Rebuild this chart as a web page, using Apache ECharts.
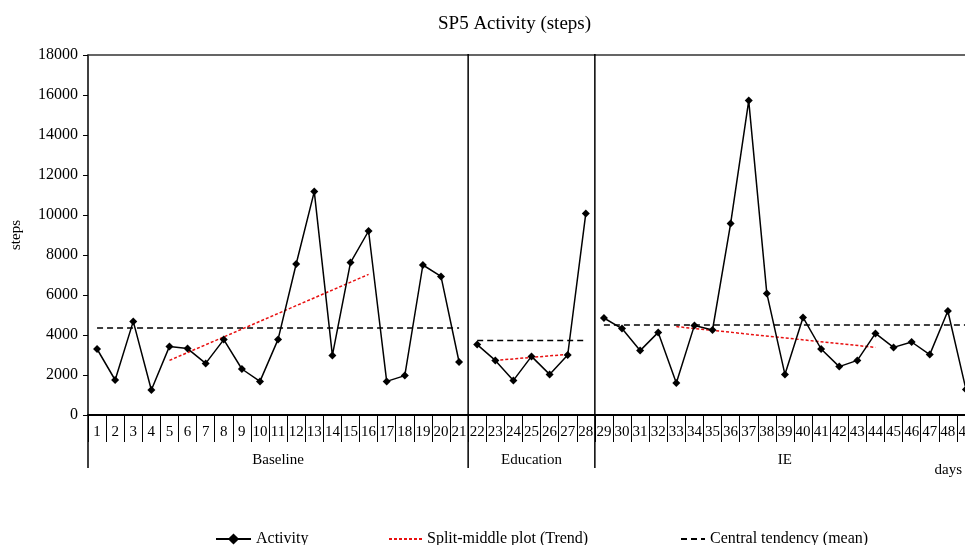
<!DOCTYPE html>
<html>
<head>
<meta charset="utf-8">
<script src="https://cdn.jsdelivr.net/npm/echarts@6/dist/echarts.min.js"></script>
<style>html,body{margin:0;padding:0;background:#fff;}#c{width:965px;height:545px;}</style>
</head>
<body>
<div id="c"></div>
<script>
// ---- data ----
const categories = ['1','2','3','4','5','6','7','8','9','10','11','12','13','14','15','16','17','18','19','20','21',
  '22','23','24','25','26','27','28',
  '29','30','31','32','33','34','35','36','37','38','39','40','41','42','43','44','45','46','47','48','49'];
const activity = [3300,1750,4680,1250,3430,3320,2580,3770,2300,1680,3780,7550,11170,2980,7620,9200,1680,1970,7500,6930,2650,
  3520,2730,1730,2930,2030,3000,10080,
  4850,4320,3220,4130,1600,4480,4250,9570,15720,6080,2030,4880,3300,2420,2730,4080,3380,3650,3020,5200,1280];
const phaseNames = ['Baseline','Education','IE'];
const phaseStart = [1,22,29];
const phaseEnd = [21,28,49];
const phaseMean = [4350,3730,4500];
const trendStartDay = [5,23,33];
const trendStartVal = [2730,2730,4420];
const trendEndDay = [16,27,44];
const trendEndVal = [7030,3030,3380];
const yTicks = {min:0, max:18000, interval:2000};

const FONT = 'Liberation Serif';
const RED = '#e81010';
const N = categories.length;

function blank(){ return new Array(N).fill('-'); }
const series = [];
for (let p = 0; p < phaseNames.length; p++) {
  const a = blank();
  for (let d = phaseStart[p]; d <= phaseEnd[p]; d++) a[d-1] = activity[d-1];
  series.push({name:'Activity', type:'line', data:a, symbol:'diamond', symbolSize:8,
    itemStyle:{color:'#000'}, lineStyle:{color:'#000', width:1.5}, z:5, connectNulls:false});
  const m = blank();
  m[phaseStart[p]-1] = phaseMean[p]; m[phaseEnd[p]-1] = phaseMean[p];
  series.push({name:'Central tendency (mean)', type:'line', data:m, symbol:'none', connectNulls:true,
    itemStyle:{color:'#000'}, lineStyle:{color:'#000', width:1.5, type:[6,4]}, z:3});
  const t = blank();
  t[trendStartDay[p]-1] = trendStartVal[p]; t[trendEndDay[p]-1] = trendEndVal[p];
  series.push({name:'Split-middle plot (Trend)', type:'line', data:t, symbol:'none', connectNulls:true,
    itemStyle:{color:RED}, lineStyle:{color:RED, width:1.5, type:[3,2]}, z:4});
}
series.push({type:'line', xAxisIndex:1, data:[], silent:true});

const legendText = {fontFamily:FONT, fontSize:16, color:'#000'};
const hideSym = {opacity:0, borderWidth:0};
const chart = echarts.init(document.getElementById('c'));
chart.setOption({
  animation:false,
  backgroundColor:'#fff',
  title:{text:'SP5 Activity (steps)', left:433, top:10,
    textStyle:{fontFamily:FONT, fontSize:19, fontWeight:'normal', color:'#000'}},
  legend:[
    {data:['Activity'], left:210, top:526, itemWidth:35, itemHeight:14, itemGap:5, textStyle:legendText},
    {data:[{name:'Split-middle plot (Trend)', itemStyle:hideSym}], left:383, top:526, itemWidth:33, itemHeight:14, textStyle:legendText},
    {data:[{name:'Central tendency (mean)', itemStyle:hideSym}], left:675, top:526, itemWidth:24, itemHeight:14, textStyle:legendText}
  ],
  grid:{left:88, top:55, width:887, height:360, containLabel:false, outerBoundsMode:'none'},
  xAxis:[
    {type:'category', data:categories, boundaryGap:true, position:'bottom',
      axisLine:{lineStyle:{color:'#000', width:2}},
      axisTick:{show:true, length:27, interval:0, lineStyle:{color:'#000', width:1}},
      axisLabel:{interval:0, margin:10, fontFamily:FONT, fontSize:15, color:'#000'},
      splitLine:{show:false}},
    {type:'value', min:0, max:N, position:'top', show:true,
      axisLine:{show:true, onZero:false, lineStyle:{color:'#333', width:1.5}},
      axisTick:{show:false}, axisLabel:{show:false}, splitLine:{show:false}}
  ],
  yAxis:{type:'value', min:yTicks.min, max:yTicks.max, interval:yTicks.interval,
    name:'steps', nameLocation:'middle', nameRotate:90, nameGap:64,
    nameTextStyle:{fontFamily:FONT, fontSize:15, color:'#000'},
    axisLine:{show:true, lineStyle:{color:'#000', width:1.5}},
    axisTick:{show:true, inside:false, length:5, lineStyle:{color:'#000'}},
    axisLabel:{margin:10, fontFamily:FONT, fontSize:16, color:'#000', formatter:function(v){return String(v);}},
    splitLine:{show:false}},
  series:series
});

const y0 = chart.convertToPixel({yAxisIndex:0}, 0);
const yTop = chart.convertToPixel({yAxisIndex:0}, yTicks.max);
const yBottom = y0 + 53;
const graphics = [];
for (let p = 0; p < phaseNames.length; p++) {
  const xs = chart.convertToPixel({xAxisIndex:1}, phaseStart[p]-1);
  const xe = chart.convertToPixel({xAxisIndex:1}, phaseEnd[p]);
  graphics.push({type:'line', shape:{x1:xs, y1:(p===0? y0 : yTop-1), x2:xs, y2:yBottom},
    style:{stroke:'#000', lineWidth:1.5}, z:10});
  graphics.push({type:'text', x:(xs+xe)/2, y:y0+45,
    style:{text:phaseNames[p], fontFamily:FONT, fontSize:15, fill:'#000', align:'center', verticalAlign:'middle'}, z:10});
}
graphics.push({type:'text', right:3, top:463,
  style:{text:'days', fontFamily:FONT, fontSize:15, fill:'#000'}});
chart.setOption({graphic:graphics});
</script>
</body>
</html>
